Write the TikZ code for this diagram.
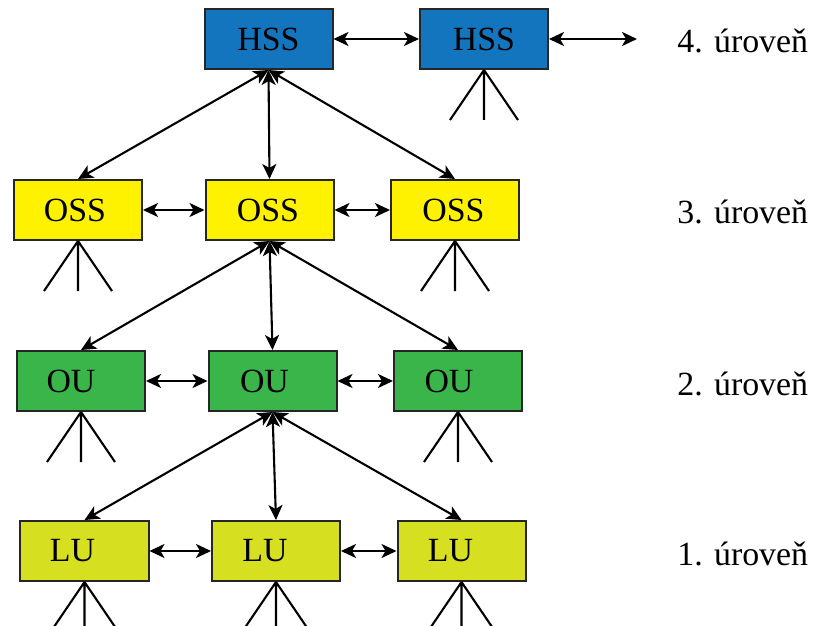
\documentclass[tikz,border=0pt]{standalone}
\usepackage{fontspec}
\setmainfont{Liberation Serif}
\usepackage{tikz}
\usetikzlibrary{arrows.meta, positioning, calc}

\definecolor{hssblue}{RGB}{18,117,189}
\definecolor{ossyellow}{RGB}{255,242,0}
\definecolor{ougreen}{RGB}{57,181,74}
\definecolor{luyellow}{RGB}{215,223,33}

\begin{document}
\begin{tikzpicture}[x=1bp, y=-1bp, line width=2.1bp,
    sys/.style={draw=black!85, line width=2bp, minimum width=128bp, minimum height=60bp,
        inner sep=0pt, font=\fontsize{34}{40}\selectfont},
    hss/.style={sys, fill=hssblue},
    oss/.style={sys, fill=ossyellow},
    ou/.style={sys, fill=ougreen},
    lu/.style={sys, fill=luyellow},
    link/.style={{Stealth[length=15bp, width=14bp, inset=4bp]}-{Stealth[length=15bp, width=14bp, inset=4bp]}},
    lvl/.style={anchor=base west, font=\fontsize{34}{40}\selectfont}]
    \useasboundingbox (0,0) rectangle (813,626);

    % level 4
    \node[hss] (hss1) at (268.5,39) {HSS};
    \node[hss] (hss2) at (484,39) {HSS};
    \coordinate (far) at (637,39);

    % level 3
    \node[oss] (oss1) at (78,210) {OSS\kern6bp};
    \node[oss] (oss2) at (269.5,210) {OSS\kern3bp};
    \node[oss] (oss3) at (455,210) {OSS\kern3bp};

    % level 2
    \node[ou] (ou1) at (81,381) {OU\kern20bp};
    \node[ou] (ou2) at (272.5,381) {OU\kern16bp};
    \node[ou] (ou3) at (458,381) {OU\kern18bp};

    % level 1
    \node[lu] (lu1) at (84.5,551) {LU\kern24bp};
    \node[lu] (lu2) at (276,551) {LU\kern22bp};
    \node[lu] (lu3) at (461.5,551) {LU\kern22bp};

    \node[lvl] (lab4) at (673,53) {4. úroveň};
    \node[lvl] (lab3) at (673,224) {3. úroveň};
    \node[lvl] (lab2) at (673,395) {2. úroveň};
    \node[lvl] (lab1) at (673,565) {1. úroveň};

    % links within a level
    \draw[link] (hss1.east) -- (hss2.west);
    \draw[link] (hss2.east) -- (far);
    \draw[link] (oss1.east) -- (oss2.west);
    \draw[link] (oss2.east) -- (oss3.west);
    \draw[link] (ou1.east) -- (ou2.west);
    \draw[link] (ou2.east) -- (ou3.west);
    \draw[link] (lu1.east) -- (lu2.west);
    \draw[link] (lu2.east) -- (lu3.west);

    % links between levels
    \foreach \c in {oss1, oss2, oss3}
        \draw[link] (hss1.south) -- (\c.north);
    \foreach \c in {ou1, ou2, ou3}
        \draw[link] (oss2.south) -- (\c.north);
    \foreach \c in {lu1, lu2, lu3}
        \draw[link] (ou2.south) -- (\c.north);

    % lower units
    \foreach \n in {hss2, oss1, oss3, ou1, ou3, lu1, lu2, lu3}
        \draw (\n.south) -- ++(-34,50) (\n.south) -- ++(0,50) (\n.south) -- ++(34,50);
\end{tikzpicture}
\end{document}
